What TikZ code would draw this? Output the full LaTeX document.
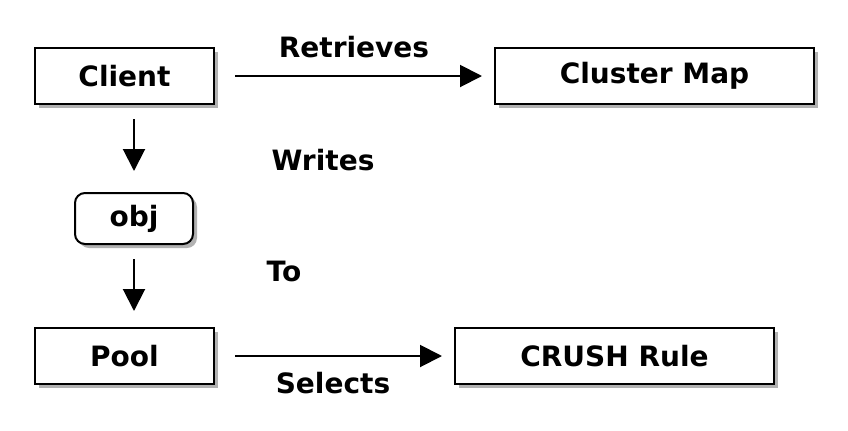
\documentclass[tikz,border=0pt]{standalone}
\usepackage{fontspec}
\setmainfont{DejaVu Sans}
\usetikzlibrary{arrows.meta, shadows, positioning}

\begin{document}
\begin{tikzpicture}[x=0.5pt, y=-0.5pt]
		\tikzstyle{boite}=[draw, line width=1pt, fill=white, inner sep=0pt,
                  font=\fontsize{14}{16}\selectfont\bfseries,
                  drop shadow={shadow xshift=2pt, shadow yshift=-2pt,
                    opacity=0.3, fill=black}]
		\tikzstyle{fleche}=[-{Triangle[length=11pt,width=11pt]},line width=1pt]
		\tikzstyle{etiquette}=[font=\fontsize{14}{16}\selectfont\bfseries]
                \useasboundingbox (0,0) rectangle (848,430);
                \node[boite, minimum width=89.5pt, minimum height=28pt]
                (client) at (124.5,76) {Client}; \node[boite, minimum
                  width=159.5pt, minimum height=28pt] (clustermap) at
                (654.5,76) {Cluster Map}; \node[boite, rounded
                  corners=5pt, minimum width=59pt, minimum
                  height=25.5pt] (obj) at (134,218.5) {obj};
                \node[boite, minimum width=89.5pt, minimum height=28pt]
                (pool) at (124.5,356) {Pool}; \node[boite, minimum
                  width=159.5pt, minimum height=28pt] (crush) at
                (614.5,356) {CRUSH Rule};
                \draw[fleche] ([xshift=10pt]client.east) --
                ([xshift=-6pt]clustermap.west); \node[etiquette]
                (retrieves) at (354,47) {Retrieves};
                \draw[fleche] ([yshift=-7pt]client.south -| obj) --
                ([yshift=10.5pt]obj.north); \node[etiquette] (writes)
                at (323,160) {Writes};
                \draw[fleche] ([yshift=-7pt]obj.south) --
                ([yshift=8pt]pool.north -| obj); \node[etiquette] (to)
                at (284,271) {To};
                \draw[fleche] ([xshift=10pt]pool.east) --
                ([xshift=-6pt]crush.west); \node[etiquette] (selects)
                at (333,383) {Selects};
	\end{tikzpicture}
\end{document}
